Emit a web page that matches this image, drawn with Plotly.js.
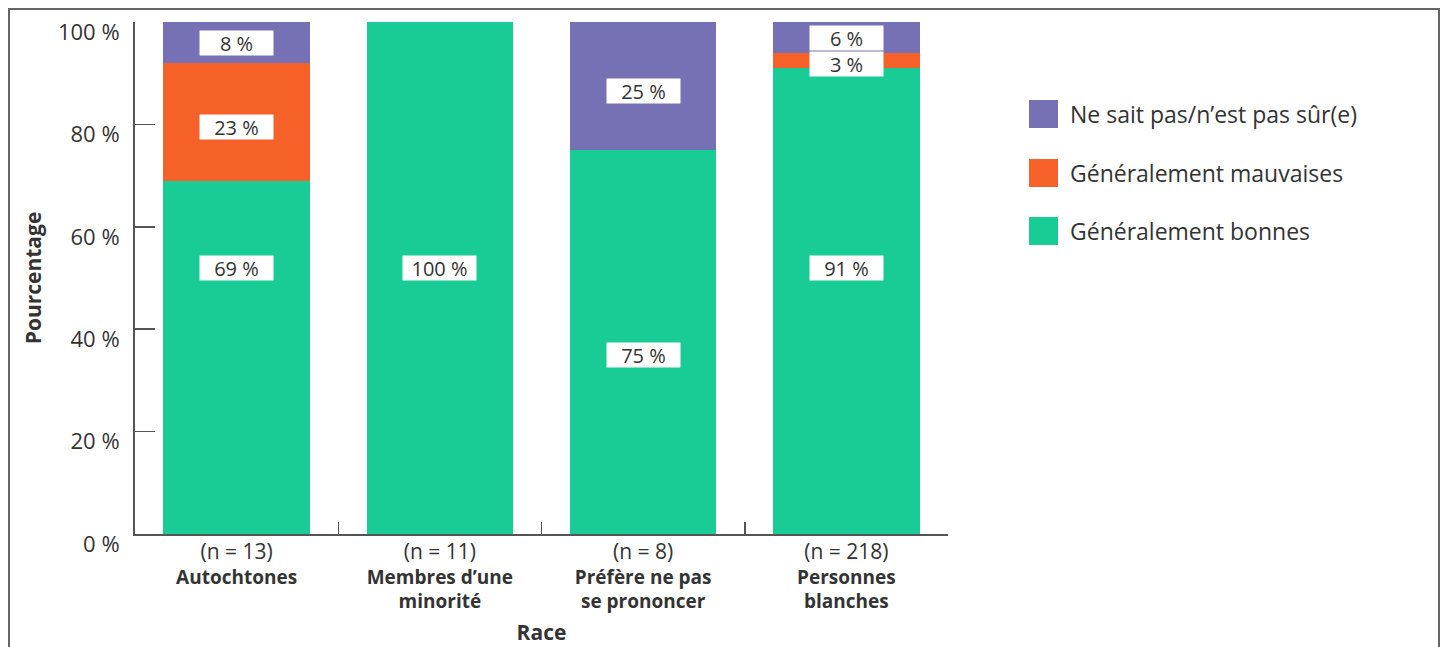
<!DOCTYPE html>
<html>
<head>
<meta charset="utf-8">
<script src="https://cdn.plot.ly/plotly-3.0.1.min.js"></script>
<style>
  html, body { margin: 0; padding: 0; background: #fff; }
  #wrap { position: relative; width: 1448px; height: 647px; overflow: hidden; }
  #chart { width: 1448px; height: 647px; }
  #frame { position: absolute; left: 8px; top: 8px; width: 1428px; height: 700px;
           border: 2px solid #666; pointer-events: none; }
</style>
</head>
<body>
<div id="wrap">
  <div id="chart"></div>
  <div id="frame"></div>
</div>
<script>
// Survey results by race (percent of respondents)
const categories = ["Autochtones", "Membres d’une minorité", "Préfère ne pas se prononcer", "Personnes blanches"];
const sampleSizes = [13, 11, 8, 218];
const groupLines = [
  ["Autochtones"],
  ["Membres d’une", "minorité"],
  ["Préfère ne pas", "se prononcer"],
  ["Personnes", "blanches"]
];
const seriesNames = ["Généralement bonnes", "Généralement mauvaises", "Ne sait pas/n’est pas sûr(e)"];
const bonnes = [69, 100, 75, 91];
const mauvaises = [23, 0, 0, 3];
const neSaitPas = [8, 0, 25, 6];
const yTicks = [0, 20, 40, 60, 80, 100];
const yTickText = ["0 %", "20 %", "40 %", "60 %", "80 %", "100 %"];

// Styling
const colors = ["#19CB95", "#F6612A", "#7670B4"];
const FONT = "'Century Gothic', 'URW Gothic', 'Open Sans', sans-serif";
const TEXT = "#333333";
const AXIS = "#555555";

// Vertical placement of the value boxes inside each bar (in %)
const labelPos = [
  [52, 52, 35, 52],
  [79.5, null, null, 91.8],
  [95.9, null, 86.5, 96.9]
];

const tickLabels = categories.map((c, i) =>
  '<span style="font-size:21px">(n = ' + sampleSizes[i] + ')</span><br><b>' +
  groupLines[i].join("<br>") + "</b>");

const series = [bonnes, mauvaises, neSaitPas];
const traces = series.map((vals, i) => ({
  type: "bar",
  name: seriesNames[i],
  x: categories,
  y: vals,
  marker: { color: colors[i], line: { width: 0 } },
  hoverinfo: "skip",
  showlegend: false
}));

// plot area in page pixels: x 135..948, y 22..534
const L = 135, R = 948, T = 22, B = 534;
const px = x => (x - L) / (R - L);
const py = y => (B - y) / (B - T);

const annotations = [];
series.forEach((vals, i) => {
  vals.forEach((v, j) => {
    if (v > 0 && labelPos[i][j] != null) {
      annotations.push({
        x: categories[j], y: labelPos[i][j], xref: "x", yref: "y",
        text: v + " %", showarrow: false,
        bgcolor: "#ffffff", width: 71, height: 22,
        font: { family: FONT, size: 20, color: TEXT },
        align: "center", valign: "middle"
      });
    }
  });
});

// Legend (top entry first)
const legendRows = [
  { name: seriesNames[2], color: colors[2], y: 114 },
  { name: seriesNames[1], color: colors[1], y: 173 },
  { name: seriesNames[0], color: colors[0], y: 231 }
];
const shapes = [];
legendRows.forEach(r => {
  shapes.push({
    type: "rect", xref: "paper", yref: "paper",
    x0: px(1029), x1: px(1058), y0: py(r.y + 14), y1: py(r.y - 14),
    fillcolor: r.color, line: { width: 0 }
  });
  annotations.push({
    xref: "paper", yref: "paper", x: px(1068), y: py(r.y),
    xanchor: "left", yanchor: "middle", showarrow: false,
    text: r.name, font: { family: FONT, size: 23, color: TEXT }
  });
});

const layout = {
  width: 1448, height: 647,
  margin: { l: L, r: 1448 - R, t: T, b: 647 - B, pad: 0 },
  paper_bgcolor: "#ffffff", plot_bgcolor: "#ffffff",
  barmode: "stack", bargap: 0.28,
  showlegend: false,
  font: { family: FONT, color: TEXT },
  xaxis: {
    type: "category", range: [-0.5, 3.5],
    tickmode: "array", tickvals: categories, ticktext: tickLabels,
    tickson: "boundaries", ticks: "inside", ticklen: 12, tickwidth: 1.5, tickcolor: AXIS,
    showline: true, linecolor: AXIS, linewidth: 2, showgrid: false, zeroline: false,
    tickfont: { family: FONT, size: 19, color: TEXT },
    title: { text: "<b>Race</b>", font: { family: FONT, size: 21, color: TEXT }, standoff: 12 },
    fixedrange: true
  },
  yaxis: {
    range: [0, 100], tickmode: "array", tickvals: yTicks, ticktext: yTickText,
    ticks: "inside", ticklen: 20, tickwidth: 1.5, tickcolor: AXIS,
    showline: true, linecolor: AXIS, linewidth: 2, showgrid: false, zeroline: false,
    tickfont: { family: FONT, size: 22, color: TEXT },
    ticklabelshift: 10, ticklabelstandoff: 9,
    title: { text: "<b>Pourcentage</b>", font: { family: FONT, size: 21, color: TEXT }, standoff: 11 },
    fixedrange: true
  },
  annotations: annotations,
  shapes: shapes
};

Plotly.newPlot("chart", traces, layout, { displayModeBar: false, staticPlot: true });
</script>
</body>
</html>
